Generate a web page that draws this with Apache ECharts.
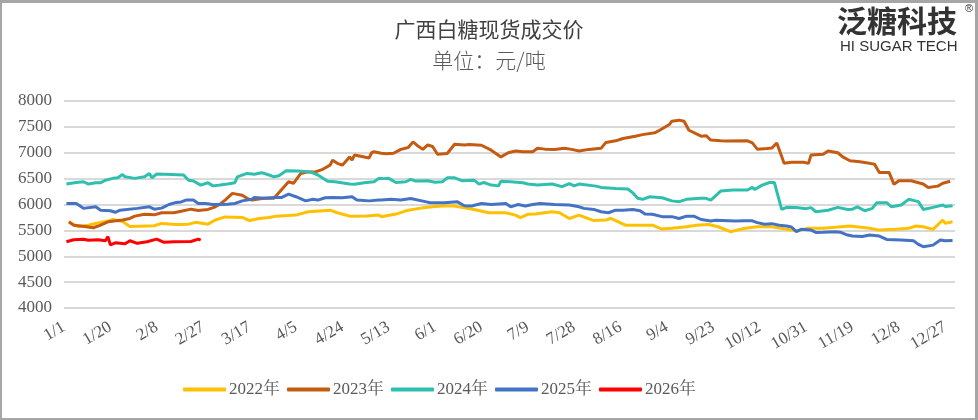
<!DOCTYPE html>
<html><head><meta charset="utf-8">
<script src="https://cdn.jsdelivr.net/npm/echarts@6/dist/echarts.min.js"></script>
<style>
html,body{margin:0;padding:0;background:#fff;}
#c{position:absolute;left:0;top:0;width:978px;height:420px;}
#frame{position:absolute;left:0;top:0;width:978px;height:420px;box-sizing:border-box;border:2px solid #a6a6a6;border-top-width:3px;border-right-width:3px;pointer-events:none;}
</style></head>
<body><div id="c"></div><div id="frame"></div>
<script>
// calendar (leap year) used for category labels
const monthDays = [31,29,31,30,31,30,31,31,30,31,30,31];
const seriesNames = ['2022年','2023年','2024年','2025年','2026年'];
const seriesColors = ['#FFC000','#C55A11','#2FBFAF','#4472C4','#FF0000'];

// [day index, price]
const data2022 = [[2,5655],[6,5570],[10,5600],[13,5635],[18,5680],[20,5710],[24,5670],[27,5575],[37,5590],[40,5635],[46,5615],[51,5620],[54,5655],[59,5620],[62,5700],[66,5760],[73,5750],[76,5690],[80,5730],[84,5750],[87,5775],[95,5795],[100,5860],[106,5880],[109,5890],[112,5840],[117,5775],[124,5780],[129,5795],[130,5765],[136,5815],[141,5890],[147,5935],[151,5955],[155,5970],[160,5970],[164,5935],[168,5905],[174,5840],[181,5840],[185,5795],[187,5745],[190,5810],[193,5815],[200,5860],[203,5840],[207,5730],[211,5795],[217,5690],[222,5700],[224,5730],[230,5600],[241,5600],[245,5525],[249,5540],[255,5570],[259,5600],[264,5615],[268,5570],[273,5475],[279,5540],[284,5570],[290,5570],[300,5490],[305,5540],[311,5540],[316,5560],[322,5585],[330,5540],[334,5505],[341,5520],[346,5540],[349,5585],[352,5570],[356,5520],[360,5700],[361,5635],[364,5665]];
const data2023 = [[2,5665],[4,5600],[7,5585],[12,5550],[15,5600],[18,5665],[24,5700],[27,5730],[29,5775],[33,5810],[37,5800],[40,5840],[45,5840],[48,5870],[52,5910],[55,5885],[59,5905],[62,5955],[64,6010],[66,6085],[69,6215],[73,6180],[75,6120],[77,6085],[82,6120],[86,6120],[89,6280],[92,6440],[94,6410],[97,6600],[100,6630],[103,6630],[106,6680],[109,6760],[110,6855],[112,6795],[114,6760],[117,6920],[118,6860],[119,6955],[125,6900],[126,7000],[127,7020],[130,6990],[132,6980],[135,6990],[138,7065],[141,7100],[143,7210],[145,7130],[147,7065],[149,7150],[151,7120],[153,6970],[157,6985],[160,7165],[164,7150],[166,7160],[171,7145],[175,7050],[179,6920],[182,7000],[185,7035],[188,7020],[192,7020],[194,7085],[197,7070],[201,7065],[205,7085],[208,7065],[211,7035],[215,7065],[220,7085],[222,7200],[226,7230],[229,7275],[234,7320],[237,7350],[242,7385],[244,7435],[248,7545],[249,7610],[252,7630],[254,7610],[256,7435],[261,7320],[263,7330],[265,7245],[269,7230],[272,7225],[280,7230],[282,7190],[284,7070],[288,7080],[290,7090],[292,7190],[295,6795],[298,6815],[303,6815],[305,6795],[306,6955],[311,6970],[313,7035],[317,7000],[319,6920],[322,6845],[326,6825],[328,6810],[332,6780],[334,6620],[338,6620],[340,6390],[342,6460],[347,6460],[352,6395],[354,6330],[358,6355],[360,6410],[363,6450]];
const data2024 = [[1,6395],[5,6425],[8,6440],[10,6395],[13,6420],[15,6420],[17,6470],[20,6505],[22,6515],[24,6580],[25,6535],[29,6505],[33,6535],[35,6600],[36,6515],[38,6590],[44,6580],[49,6570],[51,6470],[53,6455],[56,6375],[59,6420],[61,6360],[64,6375],[67,6395],[70,6420],[71,6535],[75,6600],[78,6585],[81,6615],[84,6570],[86,6535],[88,6555],[91,6650],[96,6645],[101,6630],[104,6570],[108,6450],[111,6440],[117,6395],[119,6390],[123,6420],[127,6440],[129,6505],[131,6500],[133,6505],[136,6425],[140,6440],[142,6485],[144,6455],[149,6460],[152,6430],[155,6440],[157,6515],[160,6515],[163,6460],[168,6470],[170,6395],[172,6425],[175,6375],[178,6360],[179,6450],[183,6440],[188,6420],[190,6395],[194,6375],[200,6395],[204,6345],[207,6405],[209,6360],[211,6395],[218,6355],[220,6330],[226,6310],[231,6300],[233,6225],[235,6120],[237,6100],[240,6150],[245,6130],[249,6070],[252,6055],[255,6100],[261,6120],[263,6120],[265,6085],[269,6260],[274,6280],[280,6280],[282,6330],[283,6290],[286,6375],[289,6425],[291,6425],[294,5905],[296,5945],[300,5940],[304,5920],[306,5940],[308,5860],[313,5890],[317,5945],[321,5905],[323,5910],[325,5955],[328,5880],[331,5920],[333,6035],[337,6035],[339,5955],[343,5990],[346,6100],[350,6055],[352,5905],[356,5945],[360,5990],[361,5960],[364,5975]];
const data2025 = [[1,6020],[5,6020],[6,5990],[8,5925],[13,5955],[15,5890],[19,5880],[21,5850],[23,5890],[30,5925],[35,5955],[37,5910],[40,5930],[43,6000],[46,6040],[48,6050],[50,6085],[53,6085],[55,6020],[58,6020],[61,6000],[64,6000],[67,6005],[70,6020],[73,6070],[77,6100],[78,6135],[82,6120],[86,6135],[89,6135],[92,6200],[95,6150],[99,6070],[102,6100],[104,6085],[107,6130],[110,6135],[114,6130],[118,6150],[120,6085],[125,6070],[129,6085],[130,6085],[134,6100],[138,6085],[140,6100],[142,6115],[148,6055],[150,6035],[156,6035],[161,6055],[164,5975],[167,5970],[171,6020],[175,6000],[181,6020],[183,5955],[186,6000],[189,5970],[192,6000],[195,6020],[201,6000],[207,5990],[211,5955],[213,5925],[217,5905],[220,5860],[223,5840],[226,5890],[229,5890],[233,5905],[236,5880],[238,5815],[241,5810],[245,5765],[249,5765],[252,5730],[255,5775],[258,5775],[261,5710],[265,5680],[267,5695],[275,5680],[279,5685],[282,5685],[284,5650],[287,5620],[290,5630],[293,5600],[296,5585],[298,5565],[300,5475],[302,5520],[306,5505],[308,5460],[311,5465],[316,5475],[318,5465],[321,5410],[323,5390],[327,5380],[330,5410],[334,5390],[337,5325],[343,5315],[348,5300],[350,5230],[352,5185],[356,5215],[359,5315],[361,5300],[364,5305]];
const data2026 = [[1,5280],[4,5320],[8,5330],[10,5310],[14,5320],[17,5300],[18,5380],[19,5220],[21,5260],[25,5240],[27,5300],[30,5250],[34,5280],[38,5330],[41,5270],[45,5280],[52,5285],[55,5330],[56,5310]];
const yTicks = {min:4000, max:8000, step:500};

const categories = [];
monthDays.forEach((n, m) => { for (let d = 1; d <= n; d++) categories.push((m + 1) + '/' + d); });

const allData = [data2022, data2023, data2024, data2025, data2026];
const serif = "'Liberation Serif','Noto Serif CJK SC','Noto Sans CJK SC',serif";

const chart = echarts.init(document.getElementById('c'), null, {renderer:'canvas'});
chart.setOption({
  animation: false,
  backgroundColor: '#fff',
  title: [
    {text: '广西白糖现货成交价', left: 'center', top: 14, textStyle: {fontFamily: "'Noto Sans CJK SC'", fontWeight: 'normal', fontSize: 21, color: '#404040'}},
    {text: '单位：元/吨', left: 'center', top: 45, textStyle: {fontFamily: "'Noto Sans CJK SC'", fontWeight: 300, fontSize: 21, color: '#595959'}}
  ],
  graphic: [
    {type: 'text', left: 837, top: 6, style: {text: '泛糖科技', font: "bold 30px 'Noto Sans CJK SC'", fill: '#333333'}},
    {type: 'text', left: 840, top: 39, style: {text: 'HI SUGAR TECH', font: "15px 'Liberation Sans', Arial, sans-serif", fill: '#333333'}},
    {type: 'text', left: 965, top: 3, style: {text: '®', font: "11px 'Liberation Sans', sans-serif", fill: '#333333'}}
  ],
  legend: {
    left: 178, top: 376,
    itemWidth: 43, itemHeight: 4, itemGap: 7,
    icon: 'roundRect',
    textStyle: {fontFamily: serif, fontSize: 17, color: '#595959', padding: [0,0,0,-2]},
    data: seriesNames
  },
  grid: {left: 64, right: 23, top: 101, bottom: 112, containLabel: false},
  xAxis: {
    type: 'category', data: categories, boundaryGap: false,
    axisLine: {show: false}, axisTick: {show: false},
    axisLabel: {interval: 18, rotate: 30, margin: 18, fontFamily: serif, fontSize: 17, color: '#595959'}
  },
  yAxis: {
    type: 'value', min: yTicks.min, max: yTicks.max, interval: yTicks.step,
    axisLine: {show: false}, axisTick: {show: false},
    axisLabel: {margin: 12, fontFamily: serif, fontSize: 17, color: '#595959', formatter: v => String(v)},
    splitLine: {lineStyle: {color: '#D9D9D9', width: 2}}
  },
  series: seriesNames.map((n, i) => ({
    name: n, type: 'line', data: allData[i], showSymbol: false, symbol: 'none',
    lineStyle: {width: 3, color: seriesColors[i]}, itemStyle: {color: seriesColors[i]}, z: 2 + i
  }))
});
</script></body></html>
